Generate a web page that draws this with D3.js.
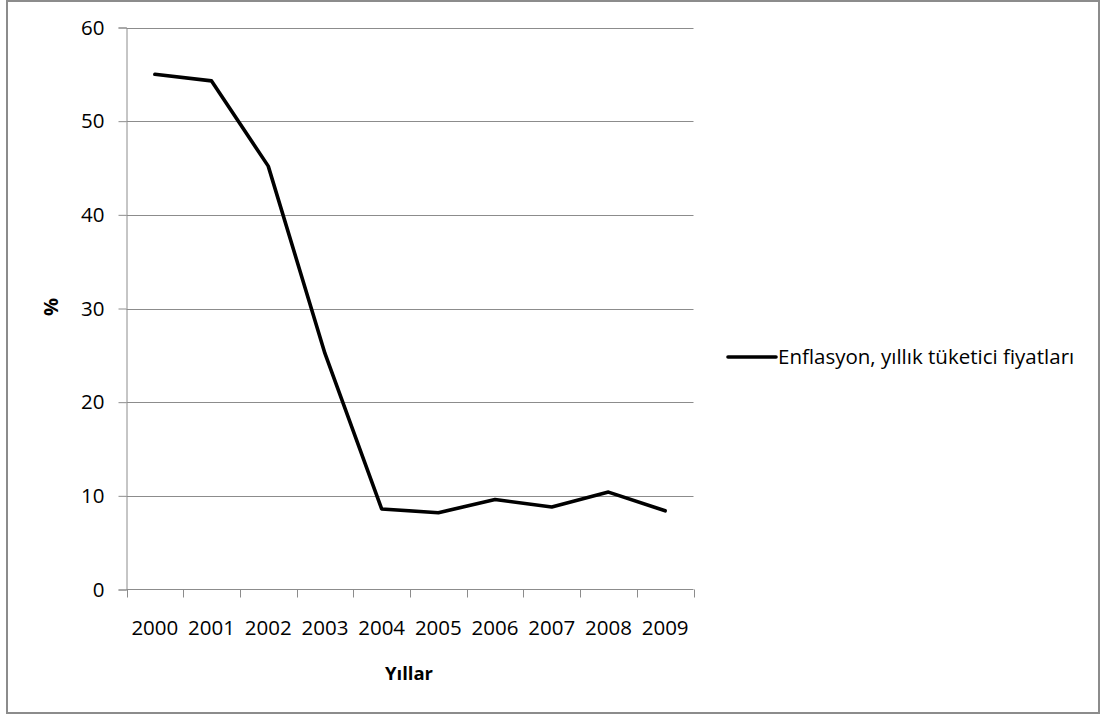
<!DOCTYPE html>
<html>
<head>
<meta charset="utf-8">
<script src="https://cdn.jsdelivr.net/npm/d3@7"></script>
<style>
  html, body { margin: 0; padding: 0; background: #fff; }
  svg { display: block; }
  text { font-family: "Open Sans", "Noto Sans", sans-serif; fill: #000; }
</style>
</head>
<body>
<svg id="chart" width="1101" height="715"></svg>
<script>
// Yıllık tüketici fiyatları enflasyonu (%)
const years = ["2000", "2001", "2002", "2003", "2004", "2005", "2006", "2007", "2008", "2009"];
const inflation = [55.0, 54.3, 45.2, 25.2, 8.6, 8.2, 9.6, 8.8, 10.4, 8.4];
const yTicks = [0, 10, 20, 30, 40, 50, 60];
const seriesName = "Enflasyon, yıllık tüketici fiyatları";
const xTitle = "Yıllar";
const yTitle = "%";

const svg = d3.select("#chart");
const W = 1101, H = 715;
const plot = { left: 126.5, right: 693.5, top: 27.5, bottom: 589.5 };

// outer frame
svg.append("rect")
  .attr("x", 7).attr("y", 1)
  .attr("width", W - 9).attr("height", H - 3)
  .attr("fill", "#fff").attr("stroke", "#8c8c8c").attr("stroke-width", 2);

const x = d3.scaleBand().domain(years).range([plot.left, plot.right]).padding(0);
const y = d3.scaleLinear().domain([0, 60]).range([plot.bottom, plot.top]);

// horizontal gridlines
svg.append("g").selectAll("line").data(yTicks.filter(t => t > 0)).join("line")
  .attr("x1", plot.left).attr("x2", plot.right)
  .attr("y1", d => Math.round(y(d)) + 0.5).attr("y2", d => Math.round(y(d)) + 0.5)
  .attr("stroke", "#8c8c8c").attr("stroke-width", 1);

// y axis
const yAxis = svg.append("g")
  .attr("transform", `translate(${plot.left},0)`)
  .call(d3.axisLeft(y).tickValues(yTicks).tickSize(8).tickPadding(14).tickFormat(d3.format("d")));
yAxis.select(".domain").attr("stroke", "#8c8c8c");
yAxis.selectAll(".tick line").attr("stroke", "#8c8c8c");
yAxis.selectAll(".tick text").attr("font-size", 20.5).attr("fill", "#222")
  .style("font-family", "'Open Sans', sans-serif");

// x axis with ticks on category boundaries
const xAxis = svg.append("g").attr("transform", `translate(0,${plot.bottom})`);
xAxis.append("line").attr("x1", plot.left).attr("x2", plot.right)
  .attr("y1", 0).attr("y2", 0).attr("stroke", "#8c8c8c");
const bounds = years.map(d => x(d)).concat([x(years[years.length - 1]) + x.bandwidth()]);
xAxis.selectAll("line.tk").data(bounds).join("line").attr("class", "tk")
  .attr("x1", d => Math.round(d) + 0.5).attr("x2", d => Math.round(d) + 0.5)
  .attr("y1", 0).attr("y2", 8).attr("stroke", "#8c8c8c");
xAxis.selectAll("text").data(years).join("text")
  .attr("x", d => x(d) + x.bandwidth() / 2)
  .attr("y", 45.5)
  .attr("text-anchor", "middle").attr("font-size", 20.5).attr("fill", "#222")
  .text(d => d);

// data line
const line = d3.line()
  .x((d, i) => x(years[i]) + x.bandwidth() / 2)
  .y(d => y(d));
svg.append("path").datum(inflation)
  .attr("d", line)
  .attr("fill", "none").attr("stroke", "#000")
  .attr("stroke-width", 3.6).attr("stroke-linejoin", "round").attr("stroke-linecap", "round");

// axis titles
svg.append("text")
  .attr("transform", "translate(58,307) rotate(-90)")
  .attr("text-anchor", "middle").attr("font-size", 20).attr("font-weight", "bold")
  .text(yTitle);
svg.append("text")
  .attr("x", 409).attr("y", 680)
  .attr("text-anchor", "middle").attr("font-size", 18.5).attr("font-weight", "bold")
  .text(xTitle);

// legend
const lg = svg.append("g").attr("transform", "translate(728,357)");
lg.append("line").attr("x1", 0).attr("x2", 48).attr("y1", 0).attr("y2", 0)
  .attr("stroke", "#000").attr("stroke-width", 3.6).attr("stroke-linecap", "round");
lg.append("text").attr("x", 50).attr("y", 7)
  .attr("font-size", 20.5).attr("fill", "#111")
  .text(seriesName);
</script>
</body>
</html>
